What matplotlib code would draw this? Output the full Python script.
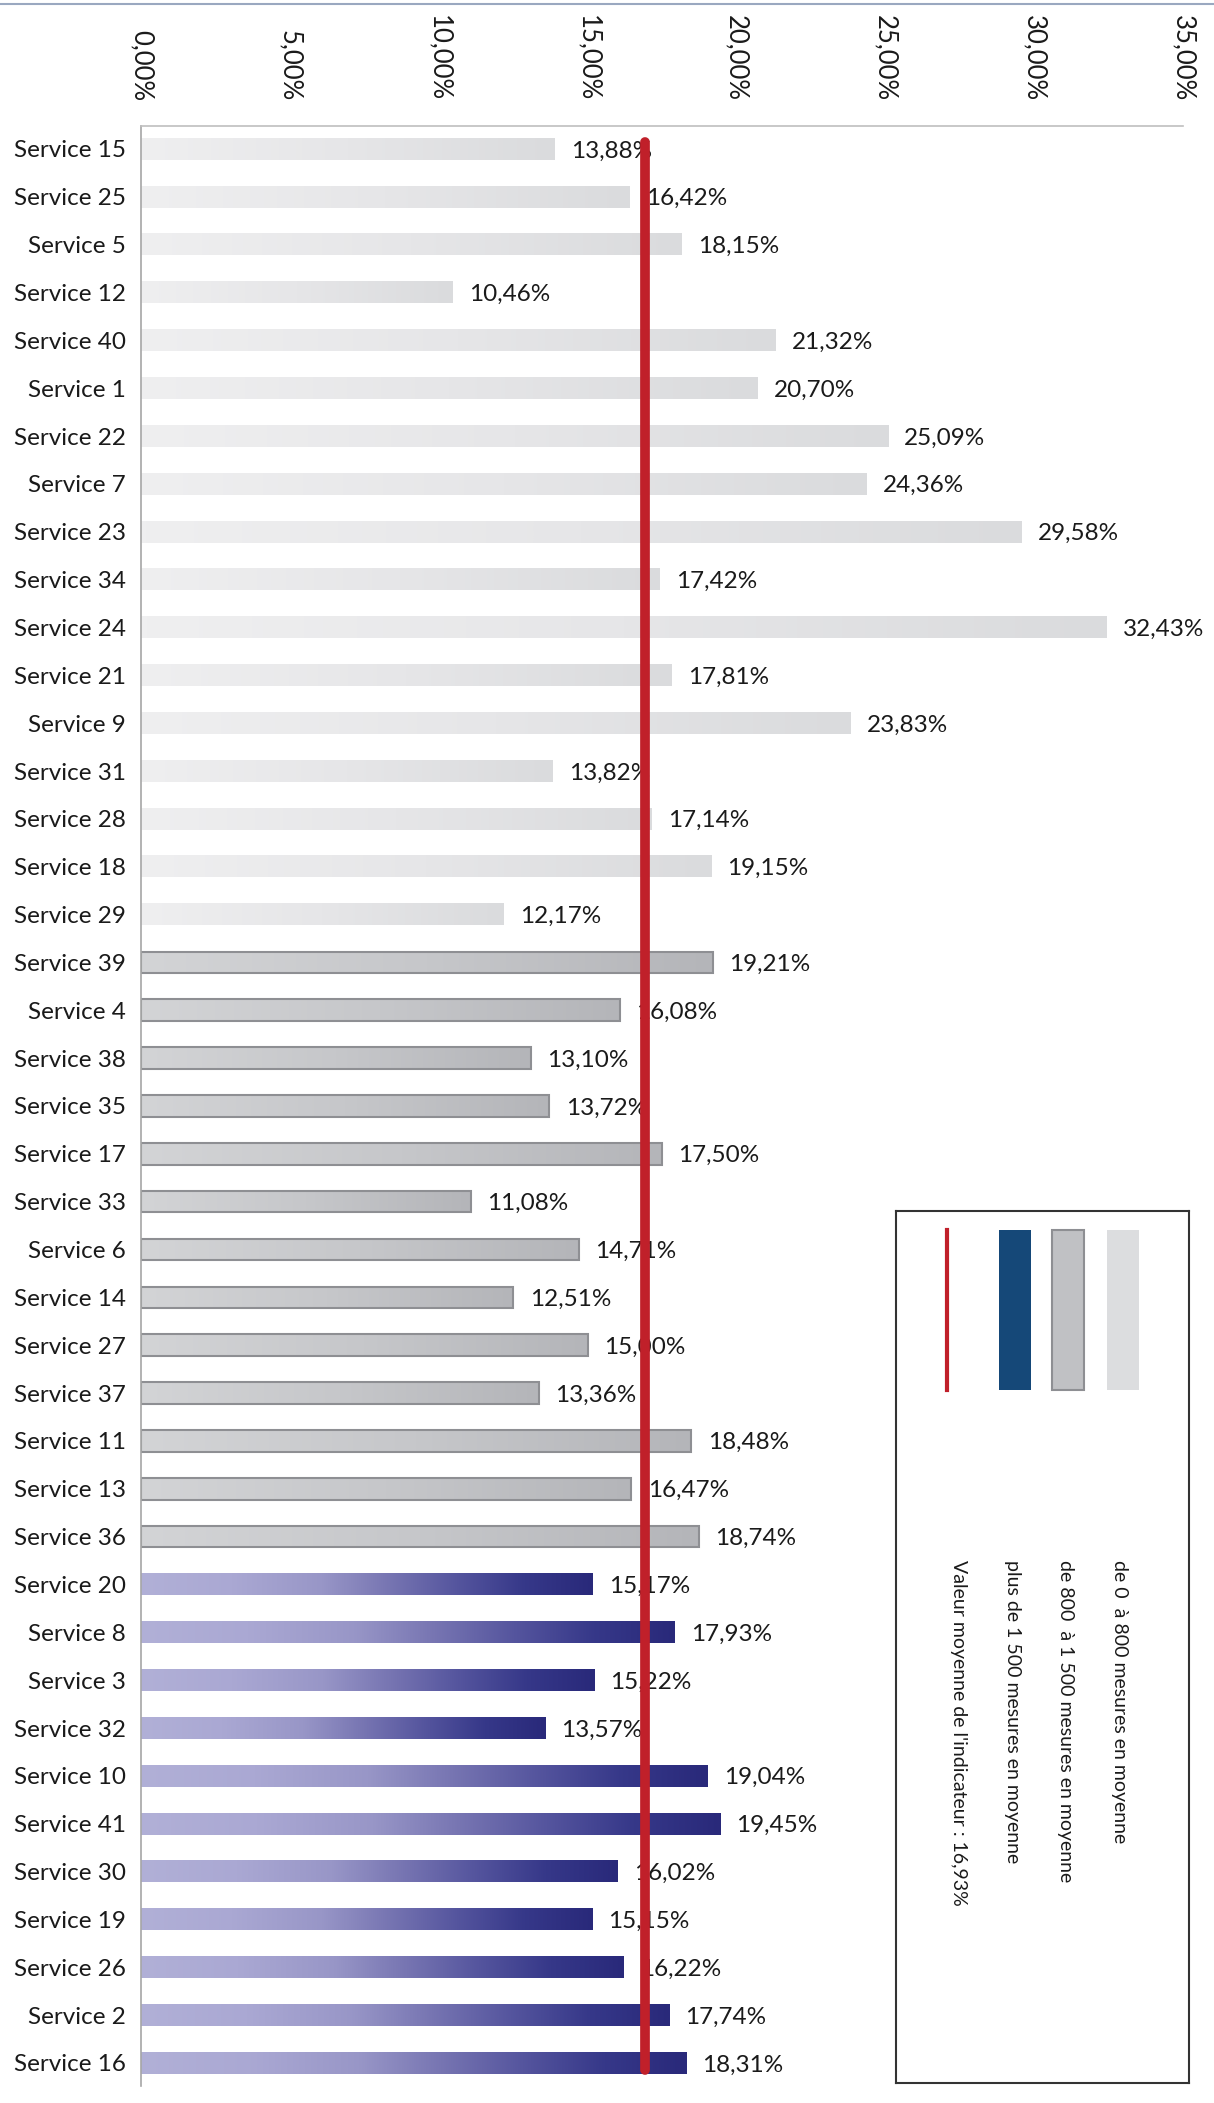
import numpy as np
import matplotlib
matplotlib.use('Agg')
import matplotlib.pyplot as plt
from matplotlib.colors import LinearSegmentedColormap
from matplotlib.lines import Line2D
from matplotlib.patches import Rectangle

plt.rcParams['font.family'] = ['Lato', 'DejaVu Sans']

# Data, top to bottom
services = ['Service 15', 'Service 25', 'Service 5', 'Service 12', 'Service 40', 'Service 1',
            'Service 22', 'Service 7', 'Service 23', 'Service 34', 'Service 24', 'Service 21',
            'Service 9', 'Service 31', 'Service 28', 'Service 18', 'Service 29',
            'Service 39', 'Service 4', 'Service 38', 'Service 35', 'Service 17', 'Service 33',
            'Service 6', 'Service 14', 'Service 27', 'Service 37', 'Service 11', 'Service 13',
            'Service 36',
            'Service 20', 'Service 8', 'Service 3', 'Service 32', 'Service 10', 'Service 41',
            'Service 30', 'Service 19', 'Service 26', 'Service 2', 'Service 16']
values = [13.88, 16.42, 18.15, 10.46, 21.32, 20.70, 25.09, 24.36, 29.58, 17.42, 32.43, 17.81,
          23.83, 13.82, 17.14, 19.15, 12.17,
          19.21, 16.08, 13.10, 13.72, 17.50, 11.08, 14.71, 12.51, 15.00, 13.36, 18.48, 16.47,
          18.74,
          15.17, 17.93, 15.22, 13.57, 19.04, 19.45, 16.02, 15.15, 16.22, 17.74, 18.31]
# 0: 0-800 mesures, 1: 800-1500, 2: plus de 1500
groups = [0] * 17 + [1] * 13 + [2] * 11
mean_value = 16.93

legend_labels = ['de 0  à 800 mesures en moyenne',
                 'de 800  à 1 500 mesures en moyenne',
                 'plus de 1 500 mesures en moyenne',
                 "Valeur moyenne de l'indicateur : 16,93%"]

def fr_pct(v):
    return f'{v:.2f}%'.replace('.', ',')

# gradient colormaps per group
cmaps = [
    LinearSegmentedColormap.from_list('g0', ['#EFEFF0', '#E6E6E8', '#DADBDD']),
    LinearSegmentedColormap.from_list('g1', ['#D3D4D6', '#C6C7CA', '#B4B5B9']),
    LinearSegmentedColormap.from_list('g2', [(0, '#B1B0D7'), (0.2, '#AAA8D3'), (0.4, '#9896C7'),
                                            (0.55, '#7775B2'), (0.7, '#55559E'),
                                            (0.85, '#363889'), (1, '#29297A')]),
]
edgecolors = ['none', '#8E8F93', 'none']

fig = plt.figure(figsize=(12.14, 21.03), dpi=100)
ax = fig.add_axes([0.1161, 0.0081, 0.8584, 0.9320])

y = np.arange(len(services))
bars = ax.barh(y, values, height=0.45, color='none', edgecolor='none', zorder=2)

grad = np.linspace(0, 1, 256).reshape(1, -1)
for b, g in zip(bars, groups):
    x0, y0, w, h = b.get_x(), b.get_y(), b.get_width(), b.get_height()
    ax.imshow(grad, extent=[x0, x0 + w, y0 + h, y0], cmap=cmaps[g], aspect='auto',
              interpolation='bicubic', zorder=1)
    if edgecolors[g] != 'none':
        b.set_edgecolor(edgecolors[g])
        b.set_linewidth(1.5)

for yi, v in zip(y, values):
    ax.text(v + 0.55, yi + 0.04, fr_pct(v), va='center', ha='left', fontsize=17.5,
            color='#1a1a1a', zorder=3)

ax.vlines(mean_value, -0.15, len(services) - 0.85, color='#C0202A', linewidth=7, zorder=5,
          capstyle='round')

ax.set_xlim(0, 35)
ax.set_ylim(len(services) - 0.52, -0.48)
ax.set_yticks(y)
ax.set_yticklabels(services, fontsize=17.5, color='#1a1a1a')
ticks = np.arange(0, 35.01, 5)
ax.xaxis.tick_top()
ax.set_xticks(ticks)
ax.set_xticklabels([fr_pct(t) for t in ticks], rotation=-90, fontsize=18.5, color='#1a1a1a')
ax.tick_params(axis='x', length=0, pad=18)
ax.tick_params(axis='y', length=0, pad=11)
for s in ['right', 'bottom']:
    ax.spines[s].set_visible(False)
ax.spines['left'].set_color('#A6A6A6')
ax.spines['top'].set_color('#BFBFBF')
ax.spines['left'].set_linewidth(1.2)
ax.spines['top'].set_linewidth(1.2)

# thin line at very top of the figure
fig.add_artist(Line2D([0, 1], [0.998, 0.998], color='#9AA8C0', linewidth=1.5))

# legend drawn rotated, as in the original
lax = fig.add_axes([0.738, 0.0095, 0.241, 0.4147])
lax.set_xlim(0, 1)
lax.set_ylim(1, 0)
lax.set_xticks([])
lax.set_yticks([])
for s in lax.spines.values():
    s.set_color('#333333')
    s.set_linewidth(1.5)
lax.plot([0.174, 0.174], [0.022, 0.205], color='#C0202A', linewidth=3)
lax.add_patch(Rectangle((0.406 - 0.0545, 0.022), 0.109, 0.183, facecolor='#154878', edgecolor='none'))
lax.add_patch(Rectangle((0.587 - 0.0545, 0.022), 0.109, 0.183, facecolor='#C0C1C4',
                        edgecolor='#8E8F93', linewidth=1.5))
lax.add_patch(Rectangle((0.775 - 0.0545, 0.022), 0.109, 0.183, facecolor='#DCDDDF', edgecolor='none'))
for xt, lab in zip([0.765, 0.58, 0.40, 0.215], legend_labels):
    lax.text(xt, 0.40, lab, rotation=-90, ha='center', va='top', fontsize=14, color='#1a1a1a')

fig.savefig('out.png', dpi=100)
